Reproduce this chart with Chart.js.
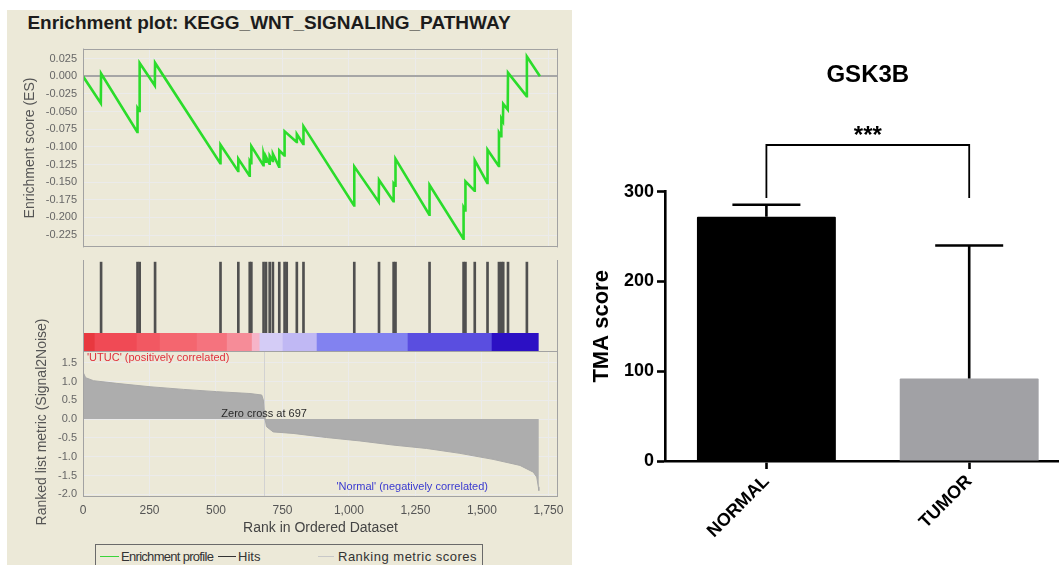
<!DOCTYPE html>
<html><head><meta charset="utf-8">
<script src="https://cdn.jsdelivr.net/npm/chart.js@4.4.1/dist/chart.umd.min.js"></script>
<style>
html,body{margin:0;padding:0;background:#fff;overflow:hidden;width:1059px;height:565px;position:relative;font-family:"Liberation Sans",Arial,sans-serif;}
.abs{position:absolute;}
canvas{display:block;}
#leftbg{left:7px;top:10px;width:565px;height:555px;background:#ece9d8;}
#ltitle{left:0;top:13px;width:538px;text-align:center;font-weight:bold;font-size:19px;line-height:20px;color:#1c1c1c;}
#legend{left:95px;top:544px;width:386px;height:30px;border:1px solid #6a6a6a;background:#ece9d8;font-size:13px;color:#333;}
#legend span{position:absolute;top:4px;white-space:nowrap;}
#legend i{position:absolute;top:11px;height:0;}
</style></head>
<body>
<div id="leftbg" class="abs"></div>
<div id="ltitle" class="abs">Enrichment plot: KEGG_WNT_SIGNALING_PATHWAY</div>
<div class="abs" style="left:8px;top:36px;"><canvas id="es" width="564" height="224"></canvas></div>
<div class="abs" style="left:8px;top:260px;"><canvas id="hits" width="564" height="73"></canvas></div>
<div class="abs" style="left:8px;top:333px;"><canvas id="strip" width="564" height="18"></canvas></div>
<div class="abs" style="left:8px;top:300px;"><canvas id="metric" width="564" height="265"></canvas></div>
<div id="legend" class="abs">
  <i style="left:4px;width:19px;border-top:1.5px solid #3ad43a;"></i><span style="left:25px;letter-spacing:-0.7px;">Enrichment profile</span>
  <i style="left:122px;width:18px;border-top:1.5px solid #333;"></i><span style="left:142px;">Hits</span>
  <i style="left:222px;width:16px;border-top:1px solid #c8c8c8;"></i><span style="left:242px;letter-spacing:0.5px;">Ranking metric scores</span>
</div>
<div class="abs" style="left:580px;top:0px;"><canvas id="bar" width="495" height="565"></canvas></div>
<script>
// ---------- GSEA enrichment plot data ----------
const esRank  = [0,67,68,204,205,212,213,270,271,516,517,583,584,626,627,632,633,678,679,687,688,701,702,713,714,737,738,757,758,803,804,828,829,1019,1020,1112,1113,1167,1168,1174,1175,1302,1303,1430,1431,1437,1438,1472,1473,1520,1521,1563,1564,1572,1573,1579,1580,1597,1598,1668,1669,1718];
const esScore = [0,-0.038,0.004,-0.079,-0.045,-0.049,0.019,-0.013,0.019,-0.123,-0.097,-0.134,-0.117,-0.141,-0.120,-0.123,-0.099,-0.126,-0.110,-0.121,-0.114,-0.124,-0.113,-0.120,-0.110,-0.128,-0.105,-0.112,-0.078,-0.093,-0.082,-0.096,-0.071,-0.183,-0.128,-0.178,-0.147,-0.177,-0.152,-0.155,-0.117,-0.196,-0.154,-0.230,-0.186,-0.190,-0.149,-0.162,-0.119,-0.151,-0.104,-0.127,-0.080,-0.085,-0.060,-0.064,-0.039,-0.047,0.005,-0.028,0.028,0];
const hitRanks = [68,205,213,271,517,584,627,633,679,688,702,714,738,758,766,804,829,1020,1113,1168,1175,1303,1431,1438,1473,1521,1564,1573,1580,1598,1669];
const metricRank  = [0,10,40,127,252,377,502,628,672,678,681,684,686,690,715,790,916,1041,1166,1292,1417,1542,1643,1693,1706,1712,1714];
const metricValue = [1.25,1.10,1.02,0.95,0.86,0.79,0.73,0.68,0.64,0.51,0.24,0,-0.05,-0.20,-0.34,-0.38,-0.49,-0.58,-0.69,-0.78,-0.91,-1.07,-1.23,-1.41,-1.54,-1.80,-1.90];
const heatStart = [0,45,203,290,429,542,636,665,752,880,1222,1538];
const heatEnd   = [45,203,290,429,542,636,665,752,880,1222,1538,1712];
const heatColor = ['#e8383f','#f04a55','#f25862','#f4666f','#f5737e','#f68c98','#f6b4c8','#d4ccf6','#c0b8f4','#8282f0','#5a4ee0','#2c10c4'];
const esTicks = [0.025,0,-0.025,-0.05,-0.075,-0.1,-0.125,-0.15,-0.175,-0.2,-0.225];
const metricTicks = [1.5,1,0.5,0,-0.5,-1,-1.5,-2];
const rankTicks = [0,250,500,750,1000,1250,1500,1750];
const zeroCrossRank = 681;
const zeroCrossLabel = 'Zero cross at 697';
const posLabel = "'UTUC' (positively correlated)";
const negLabel = "'Normal' (negatively correlated)";
const metricTitle = 'Ranked list metric (Signal2Noise)';

// ---------- Bar chart data ----------
const groups = ['NORMAL','TUMOR'];
const tmaMean = [272,92];
const tmaErrUpper = [285.5,240];
const tmaTicks = [0,100,200,300];
const geneTitle = 'GSK3B';
const sigLabel = '***';

const FONT = '"Liberation Sans", Arial, Helvetica, sans-serif';
Chart.defaults.font.family = FONT;
Chart.defaults.animation = false;
Chart.defaults.responsive = false;
Chart.defaults.plugins.legend.display = false;
Chart.defaults.plugins.tooltip.enabled = false;

const X_MAX = 1786;
const frame = (sides) => ({id:'frame', afterDraw(c){
  const a=c.chartArea, x=c.ctx; x.save(); x.strokeStyle='#a2a2a2'; x.lineWidth=1; x.beginPath();
  const L=Math.round(a.left)+0.5, R=Math.round(a.right)-0.5, T=Math.round(a.top)+0.5, B=Math.round(a.bottom)-0.5;
  if(sides.includes('l')){x.moveTo(L,a.top);x.lineTo(L,a.bottom);}
  if(sides.includes('r')){x.moveTo(R,a.top);x.lineTo(R,a.bottom);}
  if(sides.includes('t')){x.moveTo(a.left,T);x.lineTo(a.right,T);}
  if(sides.includes('b')){x.moveTo(a.left,B);x.lineTo(a.right,B);}
  x.stroke(); x.restore();}});
const gridX = {color:'#ebebeb', drawTicks:false};
const tickFn = (arr)=> (s)=>{ s.ticks = arr.map(v=>({value:v})); };

// ES chart
new Chart(document.getElementById('es'), {
  type:'line',
  data:{datasets:[{data: esRank.map((r,i)=>({x:r,y:esScore[i]})), borderColor:'#2bdc2b', borderWidth:2.6, pointRadius:0, tension:0, fill:false}]},
  options:{
    layout:{padding:{top:7,right:14,left:0,bottom:0}},
    scales:{
      x:{type:'linear', min:0, max:X_MAX, afterBuildTicks:tickFn(rankTicks), afterFit:s=>{s.height=0;}, ticks:{display:false}, grid:gridX, border:{display:false}},
      y:{min:-0.2425, max:0.0393, afterBuildTicks:tickFn(esTicks), afterFit:s=>{s.width=75;},
         ticks:{callback:v=>v.toFixed(3), font:{size:11}, color:'#666', padding:6, autoSkip:false},
         grid:{drawTicks:false, color:c=> (c.tick && c.tick.value===0) ? '#a6a6a6' : '#ebebeb', lineWidth:c=> (c.tick && c.tick.value===0) ? 2 : 1},
         border:{display:false},
         title:{display:true, text:'Enrichment score (ES)', font:{size:14}, color:'#555', padding:{top:13.6,bottom:0}}}
    }
  },
  plugins:[frame('lrtb')]
});

// Hits chart
new Chart(document.getElementById('hits'), {
  type:'bar',
  data:{datasets:[{data: hitRanks.map(r=>({x:r,y:1})), backgroundColor:'#505050', barThickness:2, borderWidth:0}]},
  options:{
    layout:{padding:{left:75,right:14,top:0,bottom:0}},
    scales:{ x:{type:'linear', min:0, max:X_MAX, display:false, offset:false}, y:{min:0, max:1.03, display:false} }
  },
  plugins:[frame('lr')]
});

// Heat strip
new Chart(document.getElementById('strip'), {
  type:'bar',
  data:{labels:['strip'], datasets:[{data: heatStart.map((s,i)=>({x:[s,heatEnd[i]], y:'strip'})), backgroundColor:heatColor, barPercentage:1, categoryPercentage:1, borderWidth:0}]},
  options:{
    indexAxis:'y',
    layout:{padding:{left:75,right:14,top:0,bottom:0}},
    scales:{ x:{type:'linear', min:0, max:X_MAX, display:false}, y:{type:'category', display:false} }
  },
  plugins:[frame('lr')]
});

// Ranked metric chart
const metricAnno = {id:'metricAnno',
  beforeDatasetsDraw(c){
    const a=c.chartArea, x=c.ctx, px=c.scales.x.getPixelForValue(zeroCrossRank);
    x.save(); x.strokeStyle='#d2d2d2'; x.lineWidth=1; x.beginPath(); x.moveTo(Math.round(px)+0.5,a.top); x.lineTo(Math.round(px)+0.5,a.bottom); x.stroke(); x.restore();
  },
  afterDatasetsDraw(c){
    const a=c.chartArea, x=c.ctx, sx=c.scales.x, sy=c.scales.y;
    x.save(); x.font='11px '+FONT; x.textBaseline='middle';
    x.fillStyle='#e0303c'; x.textAlign='left'; x.fillText(posLabel, a.left+4, a.top+7);
    x.fillStyle='#2a2a2a'; x.textAlign='center'; x.fillText(zeroCrossLabel, sx.getPixelForValue(zeroCrossRank), sy.getPixelForValue(0)-5);
    x.fillStyle='#3a3ad0'; x.textAlign='right'; x.fillText(negLabel, a.right-70, a.bottom-10);
    x.restore();
  },
  afterDraw(c){
    const a=c.chartArea, x=c.ctx;
    x.save(); x.font='14px '+FONT; x.fillStyle='#555'; x.textAlign='center'; x.textBaseline='middle';
    x.translate(34, (a.top+a.bottom)/2 - 2); x.rotate(-Math.PI/2); x.fillText(metricTitle, 0, 0); x.restore();
  }};
new Chart(document.getElementById('metric'), {
  type:'line',
  data:{datasets:[{data: metricRank.map((r,i)=>({x:r,y:metricValue[i]})), borderColor:'#a8a8a8', borderWidth:1, backgroundColor:'#adadad', fill:'origin', pointRadius:0, tension:0}]},
  options:{
    layout:{padding:{top:51,right:14,left:0,bottom:0}},
    scales:{
      x:{type:'linear', min:0, max:X_MAX, afterBuildTicks:tickFn(rankTicks), afterFit:s=>{s.height=68;},
         ticks:{callback:v=>v.toLocaleString('en-US'), font:{size:12}, color:'#555', padding:6, maxRotation:0, autoSkip:false},
         grid:gridX, border:{display:false},
         title:{display:true, text:'Rank in Ordered Dataset', font:{size:14}, color:'#444', padding:{top:0,bottom:28.6}}},
      y:{min:-2.07, max:1.81, afterBuildTicks:tickFn(metricTicks), afterFit:s=>{s.width=75;},
         ticks:{callback:v=>v.toFixed(1), font:{size:11}, color:'#666', padding:6, autoSkip:false},
         grid:{drawTicks:false, color:'#ebebeb'}, border:{display:false},
         title:{display:false}}
    }
  },
  plugins:[frame('lrtb'), metricAnno]
});

// ---------- Right: bar chart ----------
const barAnno = {id:'barAnno', afterDraw(c){
  const x=c.ctx, sx=c.scales.x, sy=c.scales.y, a=c.chartArea;
  x.save(); x.strokeStyle='#000'; x.lineCap='butt';
  x.lineWidth=2.6;
  tmaMean.forEach((m,i)=>{
    const px=sx.getPixelForValue(i), yb=sy.getPixelForValue(m), yt=sy.getPixelForValue(tmaErrUpper[i]);
    x.beginPath(); x.moveTo(px,yb); x.lineTo(px,yt); x.moveTo(px-34,yt); x.lineTo(px+34,yt); x.stroke();
  });
  const p0=sx.getPixelForValue(0), p1=sx.getPixelForValue(1), yB=sy.getPixelForValue(352), yL=sy.getPixelForValue(293);
  x.lineWidth=1.8; x.beginPath(); x.moveTo(p0,yL); x.lineTo(p0,yB); x.lineTo(p1,yB); x.lineTo(p1,yL); x.stroke();
  x.fillStyle='#000'; x.textAlign='center'; x.textBaseline='middle';
  x.font='bold 24px '+FONT; x.fillText(sigLabel,(p0+p1)/2, yB-9);
  x.font='bold 24px '+FONT; x.fillText(geneTitle,(a.left+a.right)/2, 75);
  x.restore();
}};
new Chart(document.getElementById('bar'), {
  type:'bar',
  data:{labels:groups, datasets:[{data:tmaMean, backgroundColor:['#000000','#a1a1a5'], barPercentage:0.685, categoryPercentage:1, borderWidth:0, borderRadius:1}]},
  options:{
    layout:{padding:{top:191.7,right:4.4,left:0,bottom:0}},
    scales:{
      x:{afterFit:s=>{s.height=104;}, grid:{display:true, offset:false, drawOnChartArea:false, tickLength:8, tickWidth:2.6, tickColor:'#000'},
         border:{color:'#000', width:2.6},
         ticks:{font:{size:18, weight:'bold'}, color:'#000', minRotation:45, maxRotation:45, padding:2}},
      y:{min:0, max:300, afterBuildTicks:tickFn(tmaTicks), afterFit:s=>{s.width=85;},
         grid:{display:true, drawOnChartArea:false, tickLength:8, tickWidth:2.6, tickColor:'#000'},
         border:{color:'#000', width:2.6},
         ticks:{font:{size:18, weight:'bold'}, color:'#000', padding:3},
         title:{display:true, text:'TMA score', font:{size:22, weight:'bold'}, color:'#000', padding:{top:8.8,bottom:0}}}
    }
  },
  plugins:[barAnno]
});
</script>
</body></html>
